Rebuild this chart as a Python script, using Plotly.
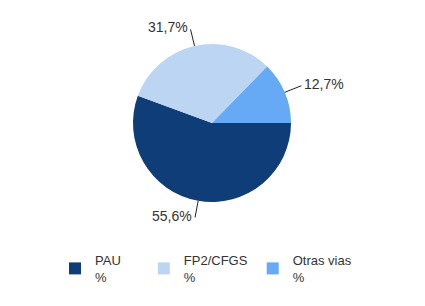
import math
import plotly.graph_objects as go

NB = "\u00a0"
categories = ["PAU" + NB * 5 + "<br>%", "FP2/CFGS<br>%", "Otras vias<br>%"]
values = [55.6, 31.7, 12.7]
value_labels = ["55,6%", "31,7%", "12,7%"]
colors = ["#0f3d78", "#bcd5f3", "#66a9f4"]

W, H = 425, 306
cx, cy, r = 212, 123, 79
FONT = "Liberation Sans, Arial, sans-serif"

fig = go.Figure(go.Pie(
    labels=categories, values=values, sort=False, direction="clockwise",
    rotation=90, textinfo="none", hoverinfo="label+percent",
    marker=dict(colors=colors, line=dict(width=0)),
    domain=dict(x=[(cx - r) / W, (cx + r) / W], y=[1 - (cy + r) / H, 1 - (cy - r) / H]),
))

shapes, annotations = [], []
total = sum(values)
start = 0.0
for v, lab in zip(values, value_labels):
    mid = (start + v / 2) / total * 2 * math.pi  # clockwise from 3 o'clock
    start += v
    dx, dy = math.cos(mid), math.sin(mid)
    x0, y0 = cx + r * dx, cy + r * dy
    x1, y1 = cx + (r + 18) * dx, cy + (r + 17) * dy
    shapes.append(dict(type="line", xref="paper", yref="paper",
                       x0=x0 / W, y0=1 - y0 / H, x1=x1 / W, y1=1 - y1 / H,
                       line=dict(color="#222", width=1)))
    annotations.append(dict(x=(x1 + (1 if dx > 0 else -1)) / W, y=1 - (y1 - 2) / H,
                            xref="paper", yref="paper", text=lab, showarrow=False,
                            xanchor="left" if dx > 0 else "right", yanchor="middle",
                            font=dict(family=FONT, size=14, color="#333")))

fig.update_layout(
    width=W, height=H, margin=dict(l=0, r=0, t=0, b=0),
    paper_bgcolor="white", plot_bgcolor="white",
    shapes=shapes, annotations=annotations,
    showlegend=True,
    legend=dict(orientation="h", x=55 / W, xanchor="left", y=1 - 245 / H, yanchor="top",
                font=dict(family=FONT, size=13, color="#333"),
                itemclick=False, itemdoubleclick=False),
)
fig.write_html("out.html")
